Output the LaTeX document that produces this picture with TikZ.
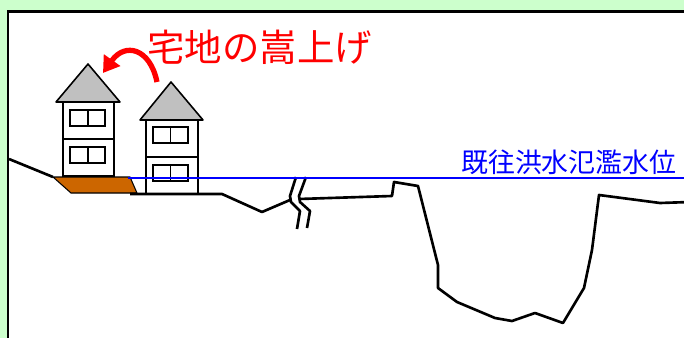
\documentclass[tikz,border=0pt]{standalone}
\usepackage{fontspec}
\newfontfamily\jpfont{Noto Sans CJK JP}
\usetikzlibrary{arrows.meta}
\definecolor{bggreen}{RGB}{204,255,204}
\definecolor{fillbrown}{RGB}{204,102,0}
\definecolor{roofgray}{RGB}{192,192,192}

\begin{document}
\begin{tikzpicture}[x=0.02cm, y=-0.02cm,
    wall/.style={draw=black, line width=1.1pt, fill=white},
    pane/.style={draw=black, line width=0.8pt},
    roof/.style={draw=black, line width=0.9pt, fill=roofgray, line join=round},
    ground/.style={black, line width=1.5pt, line join=round}]
    \useasboundingbox (0,0) rectangle (684,338);
    \clip (0,0) rectangle (684,338);
    \fill[bggreen] (0,0) rectangle (684,338);
    \draw[line width=1.7pt, fill=white] (8,11.5) rectangle (700,360);

    % raised lot
    \filldraw[fill=fillbrown, draw=black, line width=0.6pt] (53,177) -- (130,177) -- (137,193) -- (71,193) -- cycle;

    % house on the raised lot
    \draw[wall] (63,102) rectangle (114,176);
    \draw[wall] (63,139) -- (114,139);
    \draw[roof] (56,102) -- (88,64) -- (120,102) -- cycle;
    \draw[pane] (70,110) rectangle (105,126);
    \draw[pane] (88,110) -- (88,126);
    \draw[pane] (70,147) rectangle (105,163);
    \draw[pane] (88,147) -- (88,163);

    % house at old ground level
    \draw[wall] (146,120) rectangle (198,194);
    \draw[wall] (146,157) -- (198,157);
    \draw[roof] (140,120) -- (171,82) -- (203,120) -- cycle;
    \draw[pane] (153,127) rectangle (188,143);
    \draw[pane] (170.5,127) -- (170.5,143);
    \draw[pane] (153,165) rectangle (188,181);
    \draw[pane] (170.5,165) -- (170.5,181);

    % ground profile
    \draw[ground] (9,159) -- (53,177);
    \draw[ground] (130,194) -- (222,194) -- (262,212) -- (290,200);
    \draw[ground] (296,177) -- (290,196) -- (291,202) -- (300,211) -- (297,229);
    \draw[ground] (306,177) -- (299,196) -- (300,202) -- (310,211) -- (307,228);
    \draw[ground] (299,199) -- (392,196) -- (394,182) -- (418,186) -- (438,265) -- (438,288)
        -- (457,302) -- (495,318) -- (512,321) -- (535,313) -- (563,323) -- (584,288)
        -- (592,250) -- (599,195) -- (660,203) -- (690,202);

    % flood level
    \coordinate (hwlstart) at (128,178);
    \coordinate (hwlend) at (690,178);
    \draw[blue, line width=1.1pt] (hwlstart) -- (hwlend);
    \node[anchor=west, inner sep=0pt, text=blue, font=\jpfont\fontsize{15.3pt}{15.3pt}\selectfont] (hwl) at (461,162) {既往洪水氾濫水位};

    % label and arrow
    \node[anchor=west, inner sep=0pt, text=red, font=\jpfont\fontsize{21.3pt}{21.3pt}\selectfont] (lift) at (147,47) {宅地の嵩上げ};
    \coordinate (from) at (157,82);
    \coordinate (to) at (103,73);
    \draw[red, line width=3pt, -{Triangle[length=9pt,width=11pt]}] (from) .. controls (150,48) and (125,42) .. (to);
\end{tikzpicture}
\end{document}
